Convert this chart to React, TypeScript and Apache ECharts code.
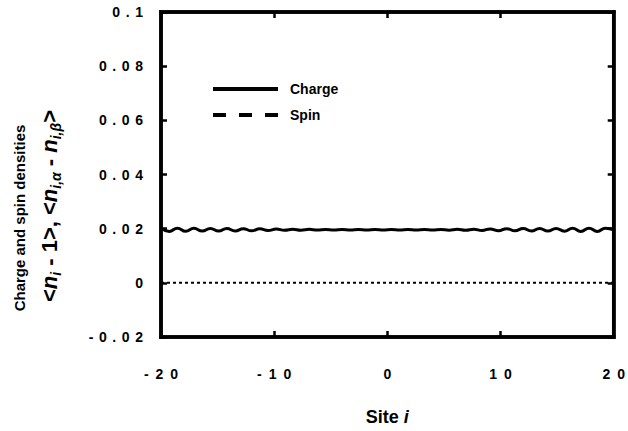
import React, { useEffect, useRef } from "react";
import * as echarts from "echarts";

const chargeSites = [
  -20, -19.27, -18.55, -17.82, -17.09, -16.36, -15.64, -14.91, -14.18, -13.45,
  -12.73, -12.0, -11.27, -10.55, -9.82, -9.09, -8.36, -7.64, -6.91, -6.18,
  -5.45, -4.73, -4.0, -3.27, -2.55, -1.82, -1.09, -0.36, 0.36, 1.09,
  1.82, 2.55, 3.27, 4.0, 4.73, 5.45, 6.18, 6.91, 7.64, 8.36,
  9.09, 9.82, 10.55, 11.27, 12.0, 12.73, 13.45, 14.18, 14.91, 15.64,
  16.36, 17.09, 17.82, 18.55, 19.27, 20,
];
const chargeValues = [
  0.0202, 0.019, 0.0202, 0.01905, 0.02015, 0.0191, 0.0201, 0.0191, 0.02005, 0.01915,
  0.02, 0.0192, 0.01995, 0.0193, 0.01985, 0.0194, 0.0198, 0.01945, 0.01975, 0.0195,
  0.0197, 0.0195, 0.0197, 0.0195, 0.0197, 0.0195, 0.0197, 0.0195, 0.0197, 0.0195,
  0.0197, 0.0195, 0.0197, 0.0195, 0.0197, 0.01945, 0.01975, 0.0194, 0.0198, 0.01935,
  0.0199, 0.01925, 0.02, 0.0192, 0.02005, 0.01915, 0.0201, 0.0191, 0.0201, 0.01905,
  0.02015, 0.019, 0.0202, 0.019, 0.0202, 0.0196,
];
const spinSites = [
  -20, -19, -18, -17, -16, -15, -14, -13, -12, -11, -10, -9, -8, -7, -6, -5, -4, -3, -2, -1,
  0, 1, 2, 3, 4, 5, 6, 7, 8, 9, 10, 11, 12, 13, 14, 15, 16, 17, 18, 19, 20,
];
const spinValues = [
  0, 0, 0, 0, 0, 0, 0, 0, 0, 0, 0, 0, 0, 0, 0, 0, 0, 0, 0, 0,
  0, 0, 0, 0, 0, 0, 0, 0, 0, 0, 0, 0, 0, 0, 0, 0, 0, 0, 0, 0, 0,
];
const seriesNames = ["Charge", "Spin"];
const xTitle = "Site";
const yTitle1 = "Charge and spin densities";

const FONT = "'Liberation Sans', Arial, Helvetica, sans-serif";

function spaced(s: string, sep: string) {
  return s.split("").join(sep);
}

export default function App() {
  const ref = useRef<HTMLDivElement>(null);
  useEffect(() => {
    if (!ref.current) return;
    const chart = echarts.init(ref.current, null, { renderer: "svg" });
    const chargeData = chargeSites.map((x, i) => [x, chargeValues[i]]);
    const spinData = spinSites.map((x, i) => [x, spinValues[i]]);
    const axisCommon = {
      axisLine: { show: true, onZero: false, lineStyle: { color: "#000", width: 3.5, cap: "square" } },
      axisTick: { show: true, inside: true, length: 6, lineStyle: { color: "#000", width: 2.5 } },
      splitLine: { show: false },
    };
    chart.setOption({
      animation: false,
      backgroundColor: "#fff",
      grid: {
        left: 161,
        right: 13,
        top: 12,
        bottom: 87,
        show: true,
        borderColor: "#000",
        borderWidth: 3.5,
        backgroundColor: "transparent",
      },
      legend: {
        orient: "vertical",
        left: 208,
        top: 77,
        itemWidth: 65,
        itemHeight: 4,
        itemGap: 12,
        textStyle: { fontFamily: FONT, fontWeight: "bold", fontSize: 14, color: "#000", padding: [0, 0, 0, 7] },
        data: [
          { name: seriesNames[0], icon: "rect", itemStyle: { color: "#000" } },
          {
            name: seriesNames[1],
            icon: "path://M0,0h13v4h-13z M26,0h13v4h-13z M52,0h13v4h-13z",
            itemStyle: { color: "#000" },
          },
        ],
      },
      xAxis: [
        {
          type: "value",
          min: -20,
          max: 20,
          interval: 10,
          position: "bottom",
          ...axisCommon,
          axisLabel: {
            margin: 30,
            fontFamily: FONT,
            fontWeight: "bold",
            fontSize: 14,
            color: "#000",
            formatter: (v: number) => spaced(String(Math.round(v)), "\u2002"),
          },
          name: xTitle + " {i|i}",
          nameLocation: "middle",
          nameGap: 71,
          nameTextStyle: {
            fontFamily: FONT,
            fontWeight: "bold",
            fontSize: 18,
            color: "#000",
            rich: { i: { fontFamily: FONT, fontWeight: "bold", fontStyle: "italic", fontSize: 18, color: "#000" } },
          },
        },
        {
          type: "value",
          min: -20,
          max: 20,
          interval: 10,
          position: "top",
          ...axisCommon,
          axisLabel: { show: false },
        },
      ],
      yAxis: [
        {
          type: "value",
          min: -0.02,
          max: 0.1,
          interval: 0.02,
          position: "left",
          ...axisCommon,
          axisLabel: {
            margin: 18,
            fontFamily: FONT,
            fontWeight: "bold",
            fontSize: 14,
            color: "#000",
            formatter: (v: number) => {
              const s = Math.abs(v) < 1e-9 ? "0" : String(parseFloat(v.toFixed(3)));
              return spaced(s, "\u2009\u2009");
            },
          },
        },
        {
          type: "value",
          min: -0.02,
          max: 0.1,
          interval: 0.02,
          position: "right",
          ...axisCommon,
          axisLabel: { show: false },
        },
      ],
      graphic: [
        {
          type: "text",
          x: 19,
          y: 218,
          rotation: Math.PI / 2,
          style: {
            text: yTitle1,
            fontFamily: FONT,
            fontWeight: "bold",
            fontSize: 15,
            fill: "#000",
            align: "center",
            verticalAlign: "middle",
          },
        },
        {
          type: "text",
          x: 49,
          y: 206,
          rotation: Math.PI / 2,
          style: {
            text: "<{n|n}{s|i} - 1>, <{n|n}{s|i,α} - {n|n}{s|i,β}>",
            fontFamily: FONT,
            fontWeight: "bold",
            fontSize: 22,
            lineHeight: 28,
            fill: "#000",
            align: "center",
            verticalAlign: "middle",
            rich: {
              n: { fontFamily: FONT, fontWeight: "bold", fontStyle: "italic", fontSize: 22, lineHeight: 28, fill: "#000" },
              s: { fontFamily: FONT, fontWeight: "bold", fontStyle: "italic", fontSize: 14, lineHeight: 14, verticalAlign: "bottom", fill: "#000" },
            },
          },
        },
      ],
      series: [
        {
          name: seriesNames[0],
          type: "line",
          data: chargeData,
          smooth: 0.5,
          showSymbol: false,
          symbol: "none",
          lineStyle: { color: "#000", width: 3 },
          itemStyle: { color: "#000" },
        },
        {
          name: seriesNames[1],
          type: "line",
          data: spinData,
          showSymbol: false,
          symbol: "none",
          lineStyle: { color: "#000", width: 2, type: [3, 3] },
          itemStyle: { color: "#000" },
        },
      ],
    });
    return () => chart.dispose();
  }, []);
  return <div ref={ref} style={{ width: 628, height: 431, position: "absolute", left: 0, top: 0 }} />;
}
